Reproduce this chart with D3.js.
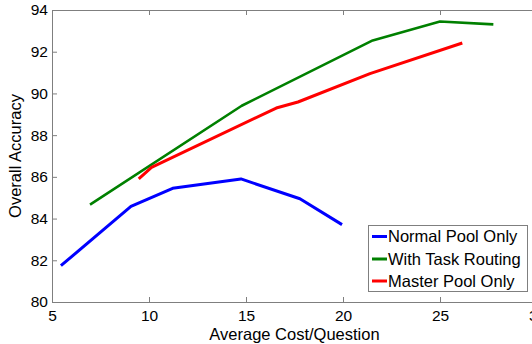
<!DOCTYPE html>
<html>
<head>
<meta charset="utf-8">
<script src="https://cdn.jsdelivr.net/npm/d3@7"></script>
<style>
  body { margin: 0; background: #fff; }
  svg { display: block; font-family: "Liberation Sans", Arial, sans-serif; }
</style>
</head>
<body>
<svg id="chart"></svg>
<script>
const seriesNames = ['Normal Pool Only', 'With Task Routing', 'Master Pool Only']
const seriesColors = ['#0000ff', '#008000', '#ff0000']

const normalCost = [5.46, 9.07, 11.22, 14.74, 17.78, 19.95]
const normalAcc = [81.74, 84.58, 85.45, 85.90, 84.95, 83.71]

const routingCost = [6.96, 14.78, 21.53, 25.0, 27.75]
const routingAcc = [84.67, 89.41, 92.54, 93.45, 93.31]

const masterCost = [9.47, 10.13, 16.56, 17.68, 21.39, 26.15]
const masterAcc = [85.90, 86.45, 89.30, 89.59, 90.95, 92.42]

const xTicks = [5, 10, 15, 20, 25, 30]
const yTicks = [80, 82, 84, 86, 88, 90, 92, 94]

const width = 532, height = 344
const margin = {top: 10, right: -5, bottom: 42, left: 52}

const svg = d3.select('#chart')
    .attr('width', width)
    .attr('height', height)

const x = d3.scaleLinear()
    .domain([5, 30])
    .range([margin.left, width - margin.right])

const y = d3.scaleLinear()
    .domain([80, 94])
    .range([height - margin.bottom, margin.top])

const axisColor = '#7f7f7f'

// bottom + top axes, ticks pointing inward
const xAxis = g => g
    .attr('transform', `translate(0,${y(80)})`)
    .call(d3.axisBottom(x).tickValues(xTicks).tickSizeInner(-5).tickSizeOuter(0).tickPadding(8))
    .call(g => g.select('.domain').attr('stroke', axisColor))
    .call(g => g.selectAll('.tick line').attr('stroke', axisColor))
    .call(g => g.selectAll('text').attr('fill', '#000').style('font-size', '15.5px').attr('font-family', null))

const xTop = g => g
    .attr('transform', `translate(0,${y(94)})`)
    .call(d3.axisTop(x).tickValues(xTicks).tickSizeInner(-5).tickSizeOuter(0).tickFormat(''))
    .call(g => g.select('.domain').attr('stroke', axisColor))
    .call(g => g.selectAll('.tick line').attr('stroke', axisColor))

const yAxis = g => g
    .attr('transform', `translate(${x(5)},0)`)
    .call(d3.axisLeft(y).tickValues(yTicks).tickSizeInner(-5).tickSizeOuter(0).tickPadding(4))
    .call(g => g.select('.domain').attr('stroke', axisColor))
    .call(g => g.selectAll('.tick line').attr('stroke', axisColor))
    .call(g => g.selectAll('text').attr('fill', '#000').style('font-size', '15.5px').attr('font-family', null))

const yRight = g => g
    .attr('transform', `translate(${x(30)},0)`)
    .call(d3.axisRight(y).tickValues(yTicks).tickSizeInner(-5).tickSizeOuter(0).tickFormat(''))
    .call(g => g.select('.domain').attr('stroke', axisColor))
    .call(g => g.selectAll('.tick line').attr('stroke', axisColor))

svg.append('g').call(xAxis)
svg.append('g').call(xTop)
svg.append('g').call(yAxis)
svg.append('g').call(yRight)

svg.append('text')
    .attr('x', (x(5) + x(30)) / 2)
    .attr('y', 340)
    .attr('text-anchor', 'middle')
    .style('font-size', '16.5px')
    .text('Average Cost/Question')

svg.append('text')
    .attr('transform', `translate(21,${(y(80) + y(94)) / 2}) rotate(-90)`)
    .attr('text-anchor', 'middle')
    .style('font-size', '16.5px')
    .text('Overall Accuracy')

const series = [
    normalCost.map((c, i) => [c, normalAcc[i]]),
    routingCost.map((c, i) => [c, routingAcc[i]]),
    masterCost.map((c, i) => [c, masterAcc[i]])
]

const line = d3.line()
    .x(d => x(d[0]))
    .y(d => y(d[1]))

svg.append('g')
    .selectAll('path')
    .data(series)
    .join('path')
        .attr('d', line)
        .attr('fill', 'none')
        .attr('stroke', (d, i) => seriesColors[i])
        .attr('stroke-width', (d, i) => i === 1 ? 2.6 : 3)
        .attr('stroke-linejoin', 'round')

// legend
const legend = svg.append('g')
legend.append('rect')
    .attr('x', 368.5)
    .attr('y', 225.5)
    .attr('width', 159)
    .attr('height', 66)
    .attr('fill', '#fff')
    .attr('stroke', axisColor)

const rowY = [236.5, 259, 281]
seriesNames.forEach((name, i) => {
    legend.append('line')
        .attr('x1', 372).attr('x2', 387)
        .attr('y1', rowY[i]).attr('y2', rowY[i])
        .attr('stroke', seriesColors[i])
        .attr('stroke-width', 3)
    legend.append('text')
        .attr('x', 388)
        .attr('y', rowY[i])
        .attr('dy', '0.36em')
        .style('font-size', '16.5px')
        .text(name)
})
</script>
</body>
</html>
